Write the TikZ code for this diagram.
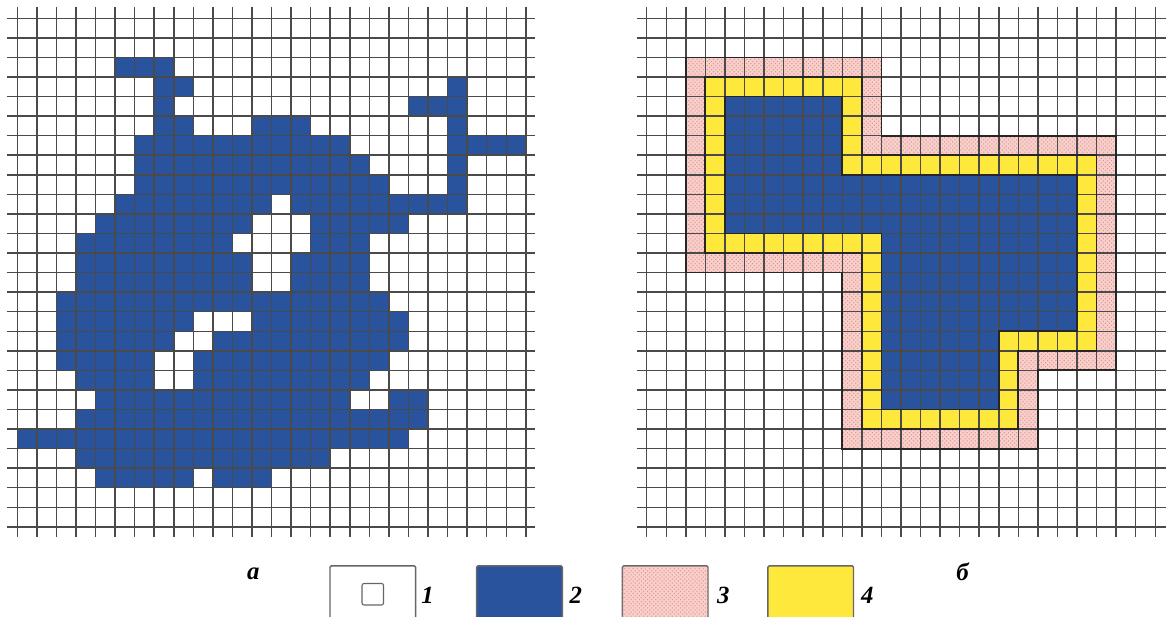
\documentclass[tikz,border=0pt]{standalone}
\usepackage{fontspec}
\setmainfont{Liberation Serif}
\usetikzlibrary{patterns}
\definecolor{cblue}{HTML}{2A539E}
\definecolor{cyellow}{HTML}{FFE83C}
\definecolor{cpink}{HTML}{F7D0CC}
\definecolor{cpinkdot}{HTML}{E58F88}
\definecolor{cgrid}{HTML}{4A4A4A}
\tikzset{
  gridline/.style={cgrid, line width=1.1pt},
  ringline/.style={black!85, line width=1.3pt, line join=miter},
  legbox/.style={draw=black!60, line width=1pt, rounded corners=1pt, minimum width=2.19cm, minimum height=1.45cm, anchor=north west, inner sep=0pt},
  leglabel/.style={font=\fontsize{18}{20}\selectfont\bfseries\itshape, inner sep=0pt}
}
\begin{document}
\begin{tikzpicture}[x=0.5cm, y=0.5cm]
  \useasboundingbox (-0.884, 0.936) rectangle (58.73, -30.57);
  \clip (-0.884, 0.936) rectangle (58.73, -30.57);

  % Field a: blue cells, row/first col/last col
  \foreach \r/\a/\b in {2/5/7, 3/7/8, 3/22/22, 4/7/7, 4/20/22,
      5/7/8, 5/12/14, 5/22/22, 6/6/16, 6/22/25, 7/6/17, 7/22/22,
      8/6/18, 8/22/22, 9/5/12, 9/14/22, 10/4/11, 10/15/19,
      11/3/10, 11/15/17, 12/3/11, 12/14/17, 13/3/11, 13/14/17,
      14/2/18, 15/2/8, 15/12/19, 16/2/7, 16/10/19, 17/2/6, 17/9/18,
      18/3/6, 18/9/17, 19/4/16, 19/19/20, 20/3/20, 21/0/19,
      22/3/15, 23/4/8, 23/10/12}{
    \fill[cblue] (\a, -\r) rectangle (\b+1, -\r-1);
  }

  % Grid a
  \foreach \i in {0,...,26}{
    \draw[gridline] (\i, 0.58) -- (\i, -26.52);
    \draw[gridline] (-0.52, -\i) -- (26.48, -\i);
  }

  % Field b: object with two rings
  \begin{scope}[shift={(32.18,0)}]
    \fill[cpink] (2,-2) -- (12,-2) -- (12,-6) -- (24,-6) -- (24,-18) -- (20,-18)
      -- (20,-22) -- (10,-22) -- (10,-13) -- (2,-13) -- cycle;
    \fill[pattern=crosshatch dots, pattern color=cpinkdot] (2,-2) -- (12,-2) -- (12,-6)
      -- (24,-6) -- (24,-18) -- (20,-18) -- (20,-22) -- (10,-22) -- (10,-13) -- (2,-13) -- cycle;
    \fill[cyellow] (3,-3) -- (11,-3) -- (11,-7) -- (23,-7) -- (23,-17) -- (19,-17)
      -- (19,-21) -- (11,-21) -- (11,-12) -- (3,-12) -- cycle;
    \fill[cblue] (4,-4) -- (10,-4) -- (10,-8) -- (22,-8) -- (22,-16) -- (18,-16)
      -- (18,-20) -- (12,-20) -- (12,-11) -- (4,-11) -- cycle;

    % Grid b
    \foreach \i in {0,...,26}{
      \draw[gridline] (\i, 0.58) -- (\i, -26.52);
      \draw[gridline] (-0.51, -\i) -- (27, -\i);
    }

    % Ring borders
    \draw[ringline] (2,-2) -- (12,-2) -- (12,-6) -- (24,-6) -- (24,-18) -- (20,-18)
      -- (20,-22) -- (10,-22) -- (10,-13) -- (2,-13) -- cycle;
    \draw[ringline] (3,-3) -- (11,-3) -- (11,-7) -- (23,-7) -- (23,-17) -- (19,-17)
      -- (19,-21) -- (11,-21) -- (11,-12) -- (3,-12) -- cycle;
    \draw[ringline] (4,-4) -- (10,-4) -- (10,-8) -- (22,-8) -- (22,-16) -- (18,-16)
      -- (18,-20) -- (12,-20) -- (12,-11) -- (4,-11) -- cycle;
  \end{scope}

  % Legend
  \node[legbox, fill=white] (leg1) at (15.95, -27.96) {};
  \node[draw=black!60, line width=0.8pt, rounded corners=1.5pt, minimum size=0.55cm, inner sep=0pt] (leg1sq) at (leg1.center) {};
  \node[legbox, fill=cblue] (leg2) at (23.45, -27.96) {};
  \node[legbox, fill=cpink, postaction={pattern=crosshatch dots, pattern color=cpinkdot}] (leg3) at (30.9, -27.96) {};
  \node[legbox, fill=cyellow] (leg4) at (38.34, -27.96) {};
  \node[leglabel] (lab1) at (20.98, -29.5) {1};
  \node[leglabel] (lab2) at (28.56, -29.5) {2};
  \node[leglabel] (lab3) at (36.1, -29.5) {3};
  \node[leglabel] (lab4) at (43.46, -29.5) {4};
  \node[leglabel] (laba) at (12.07, -28.39) {а};
  \node[leglabel] (labb) at (48.33, -28.31) {б};
\end{tikzpicture}
\end{document}
